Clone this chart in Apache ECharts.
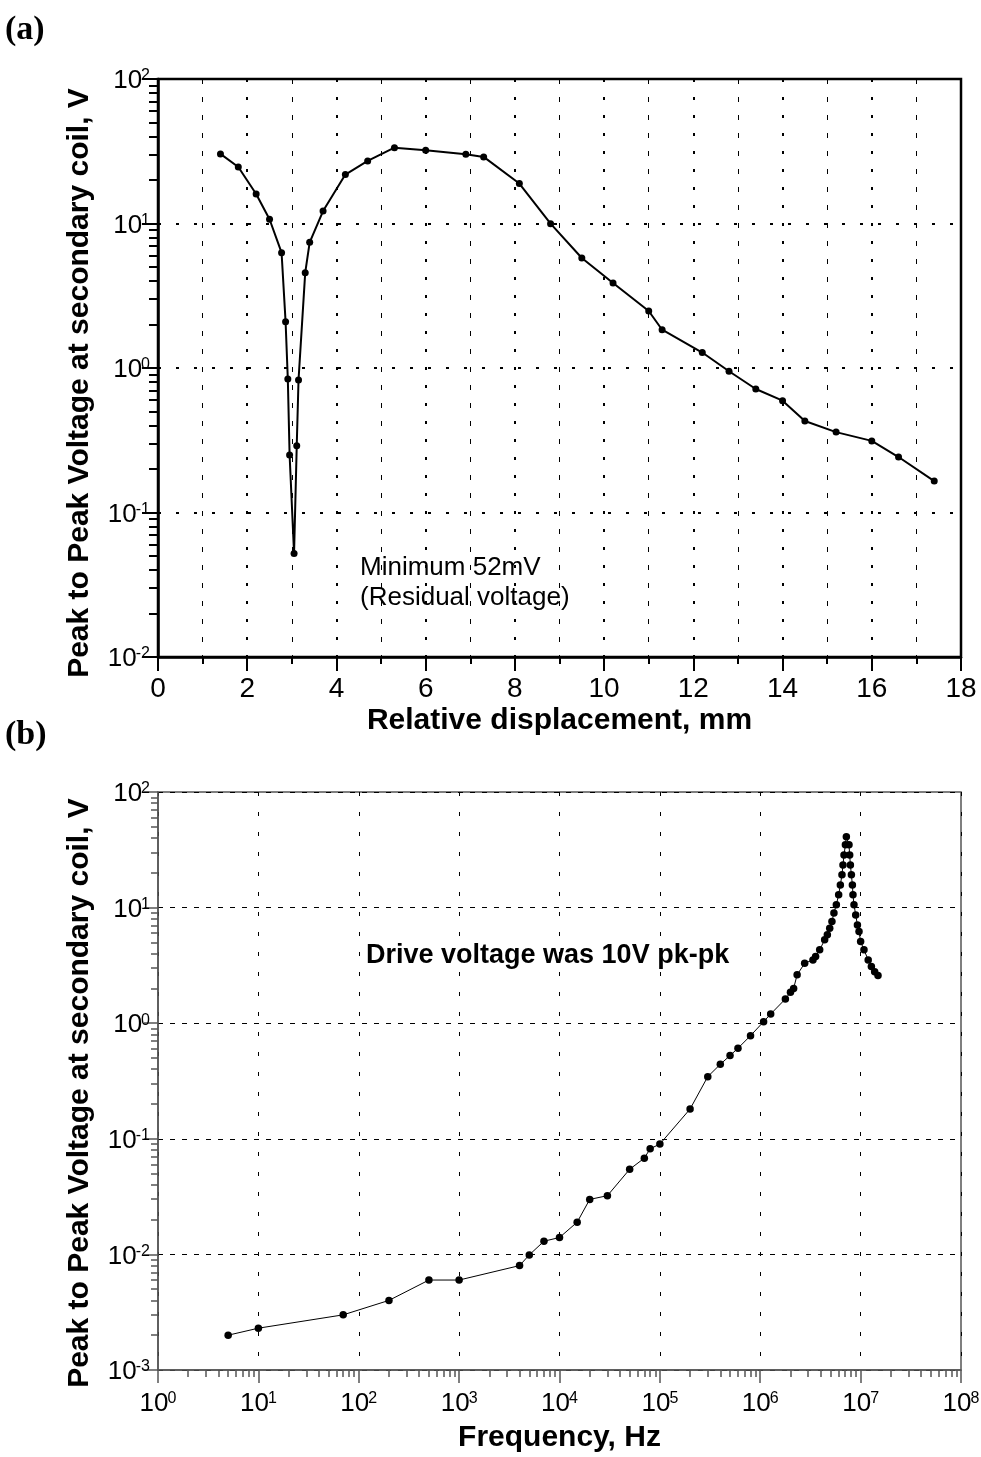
<!DOCTYPE html>
<html>
<head>
<meta charset="utf-8">
<script src="https://cdn.jsdelivr.net/npm/echarts@6/dist/echarts.min.js"></script>
<style>
  html, body { margin: 0; padding: 0; background: #fff; }
  #chart { width: 981px; height: 1457px; }
</style>
</head>
<body>
<div id="chart"></div>
<script>
// (a) secondary-coil voltage versus core displacement
const dispMm = [1.4, 1.8, 2.2, 2.5, 2.77, 2.86, 2.91, 2.95, 3.05, 3.11, 3.15, 3.3, 3.4, 3.7, 4.2, 4.7, 5.3,
  6.0, 6.9, 7.3, 8.1, 8.8, 9.5, 10.2, 11.0, 11.3, 12.2, 12.8, 13.4, 14.0, 14.5, 15.2, 16.0, 16.6, 17.4];
const dispVolt = [30.3, 24.6, 16.0, 10.7, 6.28, 2.09, 0.84, 0.25, 0.052, 0.29, 0.826, 4.57, 7.41, 12.2, 21.8, 27.1, 33.5,
  32.1, 30.1, 28.9, 18.9, 9.97, 5.77, 3.88, 2.48, 1.84, 1.28, 0.949, 0.716, 0.594, 0.43, 0.36, 0.313, 0.242, 0.165];

// (b) secondary-coil voltage versus drive frequency
const freqHz = [5, 10, 70, 200, 500, 1000, 4000, 5000, 7000, 10000, 15000, 20000, 30000, 50000, 70000, 80000,
  100000, 200000, 300000, 400000, 500000, 600000, 800000, 1080000, 1270000, 1780000, 2000000, 2150000, 2330000,
  2770000, 3350000, 3560000, 3910000, 4380000, 4660000, 4920000, 5180000, 5420000, 5730000, 6040000, 6280000,
  6520000, 6670000, 6830000, 7050000, 7210000, 7660000, 7780000, 7910000, 8090000, 8280000, 8390000, 8590000,
  8930000, 9290000, 9640000, 10000000, 10800000, 11900000, 12800000, 13800000, 14900000];
const freqVolt = [0.002, 0.0023, 0.003, 0.004, 0.006, 0.006, 0.008, 0.0099, 0.013, 0.014, 0.019, 0.0299, 0.0322,
  0.0545, 0.068, 0.082, 0.09, 0.181, 0.345, 0.441, 0.525, 0.607, 0.78, 1.03, 1.2, 1.62, 1.85, 2.0, 2.62,
  3.3, 3.53, 3.77, 4.31, 5.26, 5.81, 6.64, 7.57, 9.0, 10.6, 12.9, 15.7, 19.2, 23.4, 28.5, 34.9, 41,
  34.9, 28.5, 23.4, 19.2, 15.7, 12.9, 10.6, 8.65, 7.08, 6.2, 5.08, 4.31, 3.53, 3.09, 2.79, 2.58];

// axis ranges (decade exponents / mm)
const voltDecadesA = [-2, -1, 0, 1, 2];
const voltDecadesB = [-3, -2, -1, 0, 1, 2];
const freqDecades = [0, 1, 2, 3, 4, 5, 6, 7, 8];
const dispRange = [0, 18];

const FONT = '"Liberation Sans", Arial, sans-serif';

// 2..9 x 10^k tick positions between the listed decades
function logMinorValues(decades) {
  const out = [];
  for (let i = 0; i < decades.length - 1; i++) {
    for (let m = 2; m <= 9; m++) {
      out.push(Number((m * Math.pow(10, decades[i])).toPrecision(6)));
    }
  }
  return out;
}

function powLabel(v) {
  const e = Math.round(Math.log10(v));
  return '{b|10}{s|' + e + '}';
}

// "10" followed by a raised exponent
function powRich(color) {
  return {
    b: { fontSize: 26, fontFamily: FONT, color: color, lineHeight: 26,
         padding: [10, 0, 0, 0], verticalAlign: 'bottom' },
    s: { fontSize: 16, fontFamily: FONT, color: color, lineHeight: 16,
         padding: [0, 0, 0, -1], verticalAlign: 'top' }
  };
}

const nameStyle = { fontSize: 30, fontWeight: 'bold', fontFamily: FONT, color: '#000' };
const yName = 'Peak to Peak Voltage at secondary coil, V';

const chart = echarts.init(document.getElementById('chart'), null, { renderer: 'canvas' });

chart.setOption({
  animation: false,
  backgroundColor: '#fff',
  grid: [
    { left: 158, right: 20, top: 79, height: 578, show: true, borderColor: '#000', borderWidth: 2.5,
      outerBoundsMode: 'none' },
    { left: 158, right: 20, top: 792, height: 578, show: true, borderColor: '#555', borderWidth: 1.5,
      outerBoundsMode: 'none' }
  ],
  xAxis: [
    {
      gridIndex: 0, type: 'value', min: dispRange[0], max: dispRange[1], interval: 2,
      axisLine: { show: true, onZero: false, lineStyle: { color: '#000', width: 2.5 } },
      axisTick: { show: true, inside: false, length: 14, lineStyle: { color: '#000', width: 2 } },
      minorTick: { show: true, splitNumber: 2, length: 7, lineStyle: { color: '#000', width: 2 } },
      splitLine: { show: true, lineStyle: { color: '#000', width: 2, type: [3, 15] } },
      minorSplitLine: { show: true, lineStyle: { color: '#000', width: 1, type: [5, 13] } },
      axisLabel: { fontSize: 28, fontFamily: FONT, color: '#000', margin: 18 },
      name: 'Relative displacement, mm', nameLocation: 'middle', nameGap: 49,
      nameMoveOverlap: false, nameTextStyle: nameStyle
    },
    {
      gridIndex: 1, type: 'log', logBase: 10,
      min: Math.pow(10, freqDecades[0]), max: Math.pow(10, freqDecades[freqDecades.length - 1]),
      splitNumber: freqDecades.length - 1,
      axisLine: { show: true, onZero: false, lineStyle: { color: '#555', width: 1.5 } },
      axisTick: { show: true, inside: false, length: 13, lineStyle: { color: '#555', width: 1.5 } },
      splitLine: { show: true, lineStyle: { color: '#000', width: 1, type: [4, 16] } },
      axisLabel: { formatter: powLabel, rich: powRich('#000'), margin: 21, color: '#000' },
      name: 'Frequency, Hz', nameLocation: 'middle', nameGap: 53,
      nameMoveOverlap: false, nameTextStyle: nameStyle
    },
    {
      gridIndex: 1, type: 'log', logBase: 10, position: 'bottom',
      min: Math.pow(10, freqDecades[0]), max: Math.pow(10, freqDecades[freqDecades.length - 1]),
      axisLine: { show: false }, axisLabel: { show: false }, splitLine: { show: false },
      axisTick: { show: true, inside: false, length: 7, customValues: logMinorValues(freqDecades),
                  lineStyle: { color: '#555', width: 1.5 } }
    }
  ],
  yAxis: [
    {
      gridIndex: 0, type: 'log', logBase: 10,
      min: Math.pow(10, voltDecadesA[0]), max: Math.pow(10, voltDecadesA[voltDecadesA.length - 1]),
      splitNumber: voltDecadesA.length - 1,
      axisLine: { show: true, onZero: false, lineStyle: { color: '#000', width: 2.5 } },
      axisTick: { show: true, inside: false, length: 16, lineStyle: { color: '#000', width: 2 } },
      splitLine: { show: true, lineStyle: { color: '#000', width: 2, type: [3, 15] } },
      axisLabel: { formatter: powLabel, rich: powRich('#000'), margin: 8, padding: [4, 0, 0, 0] },
      name: yName, nameLocation: 'middle', nameGap: 63, nameMoveOverlap: false,
      nameTextStyle: Object.assign({ padding: [0, 30, 0, 0] }, nameStyle)
    },
    {
      gridIndex: 0, type: 'log', logBase: 10, position: 'left',
      min: Math.pow(10, voltDecadesA[0]), max: Math.pow(10, voltDecadesA[voltDecadesA.length - 1]),
      axisLine: { show: false }, axisLabel: { show: false }, splitLine: { show: false },
      axisTick: { show: true, inside: false, length: 9, customValues: logMinorValues(voltDecadesA),
                  lineStyle: { color: '#000', width: 2 } }
    },
    {
      gridIndex: 1, type: 'log', logBase: 10,
      min: Math.pow(10, voltDecadesB[0]), max: Math.pow(10, voltDecadesB[voltDecadesB.length - 1]),
      splitNumber: voltDecadesB.length - 1,
      axisLine: { show: true, onZero: false, lineStyle: { color: '#555', width: 1.5 } },
      axisTick: { show: true, inside: false, length: 14, lineStyle: { color: '#555', width: 1.5 } },
      splitLine: { show: true, lineStyle: { color: '#000', width: 1, type: [5, 7] } },
      axisLabel: { formatter: powLabel, rich: powRich('#000'), margin: 8, padding: [4, 0, 0, 0] },
      name: yName, nameLocation: 'middle', nameGap: 63, nameMoveOverlap: false,
      nameTextStyle: Object.assign({ padding: [0, 24, 0, 0] }, nameStyle)
    },
    {
      gridIndex: 1, type: 'log', logBase: 10, position: 'left',
      min: Math.pow(10, voltDecadesB[0]), max: Math.pow(10, voltDecadesB[voltDecadesB.length - 1]),
      axisLine: { show: false }, axisLabel: { show: false }, splitLine: { show: false },
      axisTick: { show: true, inside: false, length: 7, customValues: logMinorValues(voltDecadesB),
                  lineStyle: { color: '#555', width: 1.5 } }
    }
  ],
  series: [
    {
      type: 'line', xAxisIndex: 0, yAxisIndex: 0, silent: true,
      data: dispMm.map((x, i) => [x, dispVolt[i]]),
      showSymbol: true, showAllSymbol: true, symbol: 'circle', symbolSize: 7,
      lineStyle: { color: '#000', width: 2 }, itemStyle: { color: '#000', borderWidth: 0 }
    },
    {
      type: 'line', xAxisIndex: 1, yAxisIndex: 2, silent: true,
      data: freqHz.map((x, i) => [x, freqVolt[i]]),
      showSymbol: true, showAllSymbol: true, symbol: 'circle', symbolSize: 7.5,
      lineStyle: { color: '#000', width: 1 }, itemStyle: { color: '#000', borderWidth: 0 }
    }
  ],
  graphic: [
    { type: 'text', x: 5, y: 30, silent: true,
      style: { text: '(a)', font: 'bold 34px "Liberation Serif", "Times New Roman", serif', fill: '#000',
               align: 'left', verticalAlign: 'middle' } },
    { type: 'text', x: 5, y: 735, silent: true,
      style: { text: '(b)', font: 'bold 34px "Liberation Serif", "Times New Roman", serif', fill: '#000',
               align: 'left', verticalAlign: 'middle' } },
    { type: 'text', x: 360, y: 568, silent: true,
      style: { text: 'Minimum 52mV', font: '26px "Liberation Sans", Arial, sans-serif', fill: '#000',
               align: 'left', verticalAlign: 'middle' } },
    { type: 'text', x: 360, y: 598, silent: true,
      style: { text: '(Residual voltage)', font: '26px "Liberation Sans", Arial, sans-serif', fill: '#000',
               align: 'left', verticalAlign: 'middle' } },
    { type: 'text', x: 366, y: 956, silent: true,
      style: { text: 'Drive voltage was 10V pk-pk', font: 'bold 27px "Liberation Sans", Arial, sans-serif',
               fill: '#000', align: 'left', verticalAlign: 'middle' } }
  ]
});
</script>
</body>
</html>
